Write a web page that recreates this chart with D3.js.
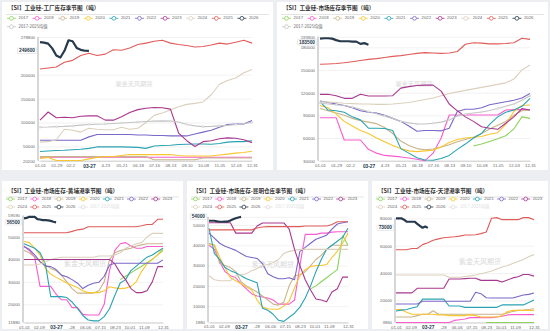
<!DOCTYPE html>
<html><head><meta charset="utf-8">
<script src="https://cdn.jsdelivr.net/npm/d3@7"></script>
<style>body{margin:0;background:#eceef1;} svg{display:block}</style>
</head><body><svg id="c" width="550" height="331"></svg>
<script>
// ---------- DATA ----------
const years = ["2017","2018","2019","2020","2021","2022","2023","2024","2025","2026"];
const meanName = "2017-2025均值";
const biweeklyDays = d3.range(0, 365, 14);   // 27 sampling dates (days since 01-01)
const weeklyDays2026 = d3.range(0, 85, 7);   // 13 weekly dates for 2026

const titles = {
  factory: "【SI】工业硅-工厂库存季节图（吨）",
  market: "【SI】工业硅-市场库存季节图（吨）",
  huangpu: "【SI】工业硅-市场库存-黄埔港季节图（吨）",
  kunming: "【SI】工业硅-市场库存-昆明仓库季节图（吨）",
  tianjin: "【SI】工业硅-市场库存-天津港季节图（吨）"
};
const watermark = "紫金天风期货";

const xTicksTop = [[0,"01-01"],[28,"01-29"],[52,"02-2"],[112,"4-23"],[140,"05-21"],[168,"06-18"],[196,"07-16"],[224,"08-13"],[252,"09-10"],[280,"10-08"],[308,"11-05"],[336,"12-03"],[364,"12-31"]];
const xTicksBottom = [[0,"01-01"],[39,"02-09"],[124,"-28"],[160,"06-06"],[199,"07-15"],[238,"08-23"],[276,"10-01"],[314,"11-09"],[364,"12-31"]];
const currentDay = 85, currentLabel = "03-27";

const factoryTicks = [20200, 50000, 100000, 150000, 200000, 278800];
const marketTicks = [30000, 60000, 90000, 120000, 150000, 180000, 193900];
const huangpuTicks = [11880, 20000, 30000, 40000, 50000, 59590];
const kunmingTicks = [1980, 10000, 20000, 30000, 40000, 50000, 54000];
const tianjinTicks = [3960, 20000, 40000, 60000, 80000];
const latest = {factory: 249600, market: 183500, huangpu: 56500, kunming: 54000, tianjin: 73000};

// factory inventory
const factory2017 = [];
const factory2018 = [27500,27500,27500,27500,27500,27500,27500,27500,27500,27500,27500,27500,27500,27500,27500,27500,27500,27500,27500,27500,27500,27500,27500,27500,27500,27500,27500];
const factory2019 = [28700,28700,28700,28700,28700,28700,28700,28700,28700,28700,28700,28700,28700,28700,22300,22300,22300,22300,22300,22300,26000,26000,26000,26000,26000,26000,26000];
const factory2020 = [25000,27000,20500,20500,20500,20500,24000,27000,29000,29000,31000,33000,33000,33000,33000,33000,33000,31000,30000,30000,30000,30000,32000,34000,36000,37500,40000];
const factory2021 = [39500,40500,41500,42000,43000,44000,46000,49000,49500,49000,49000,48500,48000,46000,51000,52000,52500,54000,54500,55000,55000,54500,56000,59000,60000,60000,62000];
const factory2022 = [63000,63000,63000,63000,63000,63000,70000,75000,75000,75000,75000,75000,74000,74000,73000,73000,72000,72000,72000,76000,80000,84000,90000,96000,97000,97000,104000];
const factory2023 = [105000,122000,110000,111000,110000,113000,114000,114000,105000,105000,112000,121000,127000,130000,131500,131000,128000,78000,62000,50000,60000,62000,66000,68000,67000,64000,58000];
const factory2024 = [59000,60000,64000,86000,84000,80000,88000,86000,85000,85000,90000,86000,88000,100000,115000,120000,126000,133000,138000,140000,143000,158000,180000,188000,193000,204000,211000];
const factory2025 = [212000,214000,216000,226000,230000,240000,245000,240000,243000,252000,251000,256000,263000,266000,270000,272000,266000,263000,261000,258000,259000,262000,266000,264000,268000,272000,266000];
const factory2026 = [268000,267000,265000,255000,240000,236000,250000,272000,270000,256000,252000,250000,249600];
const factoryMean = [90000,90500,91500,92000,93000,94500,96000,96500,97000,98000,99000,100000,101000,102000,103000,103500,103000,101000,96000,93000,91500,92000,93000,94000,96000,98000,100000];

// market inventory
const market2017 = [null,null,null,null,null,null,null,null,null,null,null,null,null,null,null,null,null,null,null,49500,52000,55500,59000,63000,72000,88000,86000];
const market2018 = [86900,86900,86900,57400,57400,57400,45000,40000,37000,36000,35000,33500,32000,30000,40000,60000,90500,90500,90500,90500,90500,90500,90500,97000,97500,97500,97000];
const market2019 = [99000,96000,93000,90000,86000,83000,81000,79000,74000,66000,56000,50000,46000,44500,45500,48000,51000,55000,58000,61000,66000,72000,77000,82000,90000,96000,97000];
const market2020 = [103000,100000,92000,82000,76000,70000,66000,60000,55000,50000,46000,43000,42000,43000,44000,48000,54000,58000,60000,61000,62000,65000,67000,78000,95000,103000,103700];
const market2021 = [108000,97000,96000,94000,88000,84000,73000,73000,72500,70000,46000,40000,34000,31000,30500,33000,37000,45000,52000,60000,66000,78000,88000,94000,97000,102000,112500];
const market2022 = [109000,107000,105000,103000,100000,96000,94000,93000,90000,86000,82000,76000,69000,70000,70000,69500,73000,95000,98000,98000,100000,104000,106000,108000,110000,113000,118800];
const market2023 = [117800,118000,116000,112500,112500,118000,115600,115600,115600,116000,126000,128000,129500,130000,130000,122000,105000,96000,88000,82000,75000,73000,71500,79500,88000,99000,97000];
const market2024 = [108000,107500,107000,106000,105500,105000,105000,104500,104500,105000,106000,107000,109000,111000,113000,116000,119000,121000,123000,125000,127000,129000,131000,133000,138000,150000,156500];
const market2025 = [157500,158000,158500,159500,161000,162500,164000,165000,166500,168000,169000,170500,172000,173000,172500,172000,172500,174500,184000,186000,185500,184500,184500,185000,186000,192000,190500];
const market2026 = [191500,192000,192000,191500,189500,188000,188000,188000,187500,187500,184500,185500,183500];
const marketMean = [106000,105000,104000,103000,101000,98000,95000,92000,89000,86000,82000,80000,78500,78500,79500,81000,84000,89000,91500,93000,94500,96500,99000,102000,105000,110000,116000];

// Huangpu port
const huangpu2017 = [null,null,null,null,null,null,null,null,null,null,null,null,null,null,null,null,null,null,31000,32500,34000,35500,37000,38500,40000,42000,44000];
const huangpu2018 = [46000,44000,41000,28000,28000,28000,24500,22000,22000,18500,18500,15500,15200,15200,15200,20000,35000,44000,47000,47500,46000,45000,45000,45800,45800,45800,45800];
const huangpu2019 = [44000,43000,41000,39000,37500,36000,35000,33000,30000,27000,25000,25000,25000,25000,26000,30000,40000,43000,44000,44500,45000,46000,46500,47000,47000,47000,47000];
const huangpu2020 = [48000,47500,45000,42000,36000,33500,32000,30800,29500,28500,27500,26000,25200,25200,25200,26000,27800,27300,27000,27200,28000,30000,34700,38000,40000,42000,45000];
const huangpu2021 = [47000,46000,45000,43000,38000,23400,23400,23400,23000,21000,18200,15000,13000,12600,12600,14500,18000,24000,29500,31000,35000,37000,39000,41000,42000,43500,45000];
const huangpu2022 = [45700,44500,42000,39000,37000,36800,35500,33000,32300,31000,29400,27000,28500,29400,29800,32500,37500,38300,38300,38300,38300,38300,38300,38300,38300,38300,39800];
const huangpu2023 = [40000,40000,40000,40000,40000,40000,40000,40000,40000,40000,40000,40000,40000,40000,40000,40000,40000,38000,34000,31000,27000,25200,25200,26000,30000,36800,36800];
const huangpu2024 = [37500,37500,37500,38000,39000,40000,40500,41000,41000,41000,41000,41000,41000,41000,41500,41500,41500,42000,43000,45000,46000,47000,47500,50000,51600,51600,51600];
const huangpu2025 = [51900,51900,51900,51900,51900,51900,51900,51900,51900,52500,53200,53500,54600,54600,54600,54600,54600,54600,54600,54600,54600,54600,55000,55600,55600,57900,57900];
const huangpu2026 = [58300,58500,59000,59000,59000,58000,57800,57500,57500,57400,57200,56800,56500];

// Kunming warehouse
const kunming2017 = [null,null,null,null,null,null,null,null,null,null,null,null,null,null,null,null,null,null,null,18500,20000,22000,24000,26000,28000,44700,40000];
const kunming2018 = [40000,38000,32000,27000,25000,24000,21000,18500,16000,15000,14500,14000,13000,11000,11000,11000,13000,30000,45400,45400,45400,46000,46000,46500,46700,46700,46700];
const kunming2019 = [41000,40000,31000,30000,29000,27000,22000,20000,18500,17000,15000,13000,11000,10500,12000,20000,25000,25500,27000,30000,33000,35000,38000,40000,40000,40000,40000];
const kunming2020 = [40300,40300,34000,29000,24000,22500,21000,19500,18000,13000,9500,8700,8500,8500,10000,12500,19000,25000,28000,29500,30000,30000,30500,34000,37000,41000,46000];
const kunming2021 = [48400,36000,33000,29000,27500,26500,25000,23500,22500,21500,9000,8000,6000,3000,2500,4500,6500,9500,14000,20000,27000,33000,38000,40000,42000,44000,48400];
const kunming2022 = [46000,43500,41000,39500,38500,37500,36000,34500,34000,33500,31000,26000,24500,23500,23500,24000,23000,37000,39000,41000,43000,44000,45000,48000,50500,51100,51600];
const kunming2023 = [51100,51100,51100,51100,51100,46000,46000,46000,46000,49500,51000,51000,51000,51000,51000,48000,38000,30000,23000,18000,13500,13000,12200,17000,18600,24300,24300];
const kunming2024 = [25000,23000,22500,22500,22500,25000,25500,26000,27500,28500,30000,30500,31500,33000,36000,37000,37500,38000,38000,38000,38000,38000,38000,38000,38000,38000,38000];
const kunming2025 = [47600,47600,47600,47600,47600,47600,47600,47600,47600,48500,49000,49200,49200,49200,49200,49200,49200,49200,49500,49500,49500,49500,49500,50300,51600,51600,51600];
const kunming2026 = [52100,52100,52100,51800,51600,51600,51700,51700,52200,52800,53300,53700,54000];

// Tianjin port
const tianjin2017 = [null,null,null,null,null,null,null,null,null,null,null,null,null,null,null,null,null,4000,4000,4000,4000,4000,4000,4000,4000,4000,4000];
const tianjin2018 = [4000,4000,4000,4000,4000,4000,4000,4000,4000,4000,4000,5500,6000,6500,7500,7500,7500,7500,7500,8000,8500,9500,9700,9700,9700,9700,9700];
const tianjin2019 = [8000,8000,8000,8000,9000,10000,10000,12500,10000,10000,10000,10000,10000,10000,10000,10000,10000,10000,10000,10000,10000,11000,12000,12800,13000,13500,14000];
const tianjin2020 = [13500,13500,11500,10000,10000,10000,10000,10000,9500,9500,9000,9000,9000,9000,9500,9000,8000,8000,8000,8000,9000,12000,12800,12800,12800,12800,12800];
const tianjin2021 = [12300,13000,13500,14500,15500,21000,21000,21000,21000,21000,16000,16000,16000,15000,15000,15000,15000,15000,15000,15000,16800,16800,16800,16800,16800,18500,20300];
const tianjin2022 = [17500,17500,17500,17500,17500,19500,19500,19500,19500,19500,19500,19500,19500,19500,19500,26000,25000,22000,21800,21800,21800,21800,21800,23000,24000,24500,25500];
const tianjin2023 = [25600,25600,25600,25600,28900,28900,28900,28900,28900,28900,35700,35700,35700,36000,36300,36300,34700,34700,34700,34700,33500,35000,36500,37400,39000,39000,37800];
const tianjin2024 = [38600,38600,38600,38600,38600,38600,38600,38600,38600,38600,37000,37000,37000,37500,38000,38600,39500,40500,41500,43000,44500,45500,47000,48500,50000,52000,53500];
const tianjin2025 = [57000,57000,57000,58000,58000,60800,62200,64000,65000,65800,66200,66500,67000,67800,67800,68000,68800,70000,80000,80500,79000,79000,79000,79000,80500,80500,79000];
const tianjin2026 = [80000,80000,80000,79000,77500,77500,77500,77500,76000,74500,73100,74000,73000];

// ---------- STYLE ----------
const colors = {"2017":"#8cd35c","2018":"#f85ccf","2019":"#c8b48b","2020":"#f8c630","2021":"#2aa3b2","2022":"#7b67c7","2023":"#a8388e","2024":"#dcd0bd","2025":"#e05c5a","2026":"#26394d","mean":"#c4c4c4"};
const FONT = "'Liberation Sans', Arial, sans-serif";
const CJK = "'Noto Sans CJK SC', sans-serif";

const panels = [
  {key:"factory", data:{"2017":factory2017,"2018":factory2018,"2019":factory2019,"2020":factory2020,"2021":factory2021,"2022":factory2022,"2023":factory2023,"2024":factory2024,"2025":factory2025,"2026":factory2026,"mean":factoryMean},
   ticks:factoryTicks, box:[2,2,271,168], plot:[40,252,37,160.7], axisX:38, legend:"wide", meanOn:true, xt:xTicksTop, wm:[134,84,6.2]},
  {key:"market", data:{"2017":market2017,"2018":market2018,"2019":market2019,"2020":market2020,"2021":market2021,"2022":market2022,"2023":market2023,"2024":market2024,"2025":market2025,"2026":market2026,"mean":marketMean},
   ticks:marketTicks, box:[277,2,271,168], plot:[320,530,36.8,160.7], axisX:318, legend:"wide", meanOn:true, xt:xTicksTop, wm:[414,84,6.2]},
  {key:"huangpu", data:{"2017":huangpu2017,"2018":huangpu2018,"2019":huangpu2019,"2020":huangpu2020,"2021":huangpu2021,"2022":huangpu2022,"2023":huangpu2023,"2024":huangpu2024,"2025":huangpu2025,"2026":huangpu2026},
   ticks:huangpuTicks, box:[2,181,181,148], plot:[24,163,215.5,322.5], axisX:23, legend:"narrow", meanOn:false, xt:xTicksBottom, wm:[85,264,7]},
  {key:"kunming", data:{"2017":kunming2017,"2018":kunming2018,"2019":kunming2019,"2020":kunming2020,"2021":kunming2021,"2022":kunming2022,"2023":kunming2023,"2024":kunming2024,"2025":kunming2025,"2026":kunming2026},
   ticks:kunmingTicks, box:[187,181,181,148], plot:[209,348,216.9,322.4], axisX:208, legend:"narrow", meanOn:false, xt:xTicksBottom, wm:[273,265,7]},
  {key:"tianjin", data:{"2017":tianjin2017,"2018":tianjin2018,"2019":tianjin2019,"2020":tianjin2020,"2021":tianjin2021,"2022":tianjin2022,"2023":tianjin2023,"2024":tianjin2024,"2025":tianjin2025,"2026":tianjin2026},
   ticks:tianjinTicks, box:[372,181,176,148], plot:[396,534,218.3,322.5], axisX:395, legend:"narrow", meanOn:false, xt:xTicksBottom, wm:[480,262,7]}
];

const svg = d3.select("#c");

function legendIcon(g, x, y, color, faded) {
  const c = faded ? "#ddd" : color;
  g.append("line").attr("x1",x).attr("x2",x+9).attr("y1",y).attr("y2",y).attr("stroke",c).attr("stroke-width",0.8);
  g.append("circle").attr("cx",x+4.5).attr("cy",y).attr("r",1.9).attr("fill","#fff").attr("stroke",c).attr("stroke-width",0.8);
}

panels.forEach(p => {
  const [bx,by,bw,bh] = p.box;
  const g = svg.append("g");
  g.append("rect").attr("x",bx).attr("y",by).attr("width",bw).attr("height",bh).attr("fill","#fff");
  const wide = p.legend === "wide";
  const titleY = wide ? by+6.5 : by+10;
  g.append("text").attr("x",bx+6).attr("y",titleY).attr("dominant-baseline","middle")
    .attr("font-family",CJK).attr("font-size",5.6).attr("font-weight","bold").attr("fill","#333").text(titles[p.key]);
  g.append("line").attr("x1",bx+4).attr("x2",bx+bw-4).attr("y1",titleY+6).attr("y2",titleY+6).attr("stroke","#e4e4e4").attr("stroke-width",1);

  // legend
  const items = years.map(y => ({k:y, label:y})).concat([{k:"mean", label:meanName}]);
  let pos;
  if (wide) {
    pos = items.map((it,i) => i < 10 ? [bx+5+i*25.6, by+16.3] : [bx+5, by+24.7]);
  } else {
    pos = items.map((it,i) => i < 7 ? [bx+4+i*24.2, by+18] : [bx+4+(i-7)*24.2, by+26]);
  }
  items.forEach((it,i) => {
    const faded = it.k === "mean" && !p.meanOn;
    legendIcon(g, pos[i][0], pos[i][1], colors[it.k], faded);
    g.append("text").attr("x",pos[i][0]+11.5).attr("y",pos[i][1]).attr("dominant-baseline","middle")
      .attr("font-family", it.k==="mean"?CJK:FONT).attr("font-size",4.3).attr("fill",faded?"#ddd":"#666").text(it.label);
  });

  const [px0,px1,py0,py1] = p.plot;
  const x = d3.scaleLinear().domain([0,364]).range([px0,px1]);
  const y = d3.scaleLinear().domain([p.ticks[0], p.ticks[p.ticks.length-1]]).range([py1,py0]);

  // watermark
  g.append("text").attr("x",p.wm[0]).attr("y",p.wm[1]).attr("text-anchor","middle").attr("dominant-baseline","middle")
    .attr("font-family",CJK).attr("font-size",p.wm[2]).attr("fill","#d9d9d9").text(watermark);

  // grid + y labels
  const yAxis = d3.axisLeft(y).tickValues(p.ticks).tickSize(-(px1-p.axisX)).tickFormat(d => String(d)).tickPadding(3);
  const ya = g.append("g").attr("transform",`translate(${p.axisX},0)`).call(yAxis);
  ya.select(".domain").remove();
  ya.selectAll(".tick line").attr("stroke","#ececec").attr("stroke-width",0.7);
  ya.selectAll(".tick text").attr("font-family",FONT).attr("font-size",4.3).attr("fill","#666");
  ya.selectAll(".tick").filter(d => d === latest[p.key]).select("text").remove();

  // x axis
  const xAxis = d3.axisBottom(x).tickValues(p.xt.map(d=>d[0])).tickSize(0).tickPadding(3)
    .tickFormat(d => p.xt.find(t => t[0]===d)[1]);
  const xa = g.append("g").attr("transform",`translate(0,${py1})`).call(xAxis);
  xa.select(".domain").attr("stroke","#bbb").attr("stroke-width",0.7);
  xa.selectAll(".tick text").attr("font-family",FONT).attr("font-size",4.3).attr("fill","#666");

  g.append("line").attr("x1",p.axisX).attr("x2",p.axisX).attr("y1",py0).attr("y2",py1).attr("stroke","#999").attr("stroke-width",0.8);

  // series
  const line = d3.line().defined(d => d.v != null).x(d => x(d.day)).y(d => y(d.v));
  const order = ["2017","2018","2019","2020","2021","2022","2024","2023","mean","2025","2026"];
  order.forEach(k => {
    const vals = p.data[k];
    if (!vals || !vals.length) return;
    const days = k === "2026" ? weeklyDays2026 : biweeklyDays;
    const pts = vals.map((v,i) => ({day:days[i], v:v}));
    g.append("path").datum(pts).attr("d",line).attr("fill","none")
      .attr("stroke",colors[k]).attr("stroke-width", k==="2026" ? 2.2 : 1.1)
      .attr("stroke-linejoin","round");
    if (k === "mean") {
      g.selectAll(null).data(pts.filter((d,i)=>i%2===0)).enter().append("circle")
        .attr("cx",d=>x(d.day)).attr("cy",d=>y(d.v)).attr("r",0.9).attr("fill","#fff").attr("stroke",colors.mean).attr("stroke-width",0.6);
    }
  });

  // highlighted latest value on y axis (nudged away from a neighbouring tick label)
  const hv = latest[p.key];
  let hy = y(hv);
  p.ticks.filter(t => t !== hv).forEach(t => {
    const ty = y(t);
    if (Math.abs(ty - hy) < 5.6) hy = ty > hy ? ty - 5.6 : ty + 5.6;
  });
  const ht = g.append("text").attr("x",p.axisX-3).attr("y",hy).attr("text-anchor","end").attr("dominant-baseline","middle")
    .attr("font-family",FONT).attr("font-size",4.8).attr("font-weight","bold").attr("fill","#26394d").text(String(hv));
  const bb = ht.node().getBBox();
  g.insert("rect", () => ht.node()).attr("x",bb.x-1.5).attr("y",bb.y-0.3).attr("width",bb.width+3).attr("height",bb.height+0.6)
    .attr("fill","#fff").attr("stroke","#cfd3d8").attr("stroke-width",0.5).attr("rx",0.8);

  g.append("text").attr("x",x(currentDay)).attr("y",py1+5.6).attr("text-anchor","middle").attr("dominant-baseline","middle")
    .attr("font-family",FONT).attr("font-size",4.8).attr("font-weight","bold").attr("fill","#26394d").text(currentLabel);
});
</script></body></html>
